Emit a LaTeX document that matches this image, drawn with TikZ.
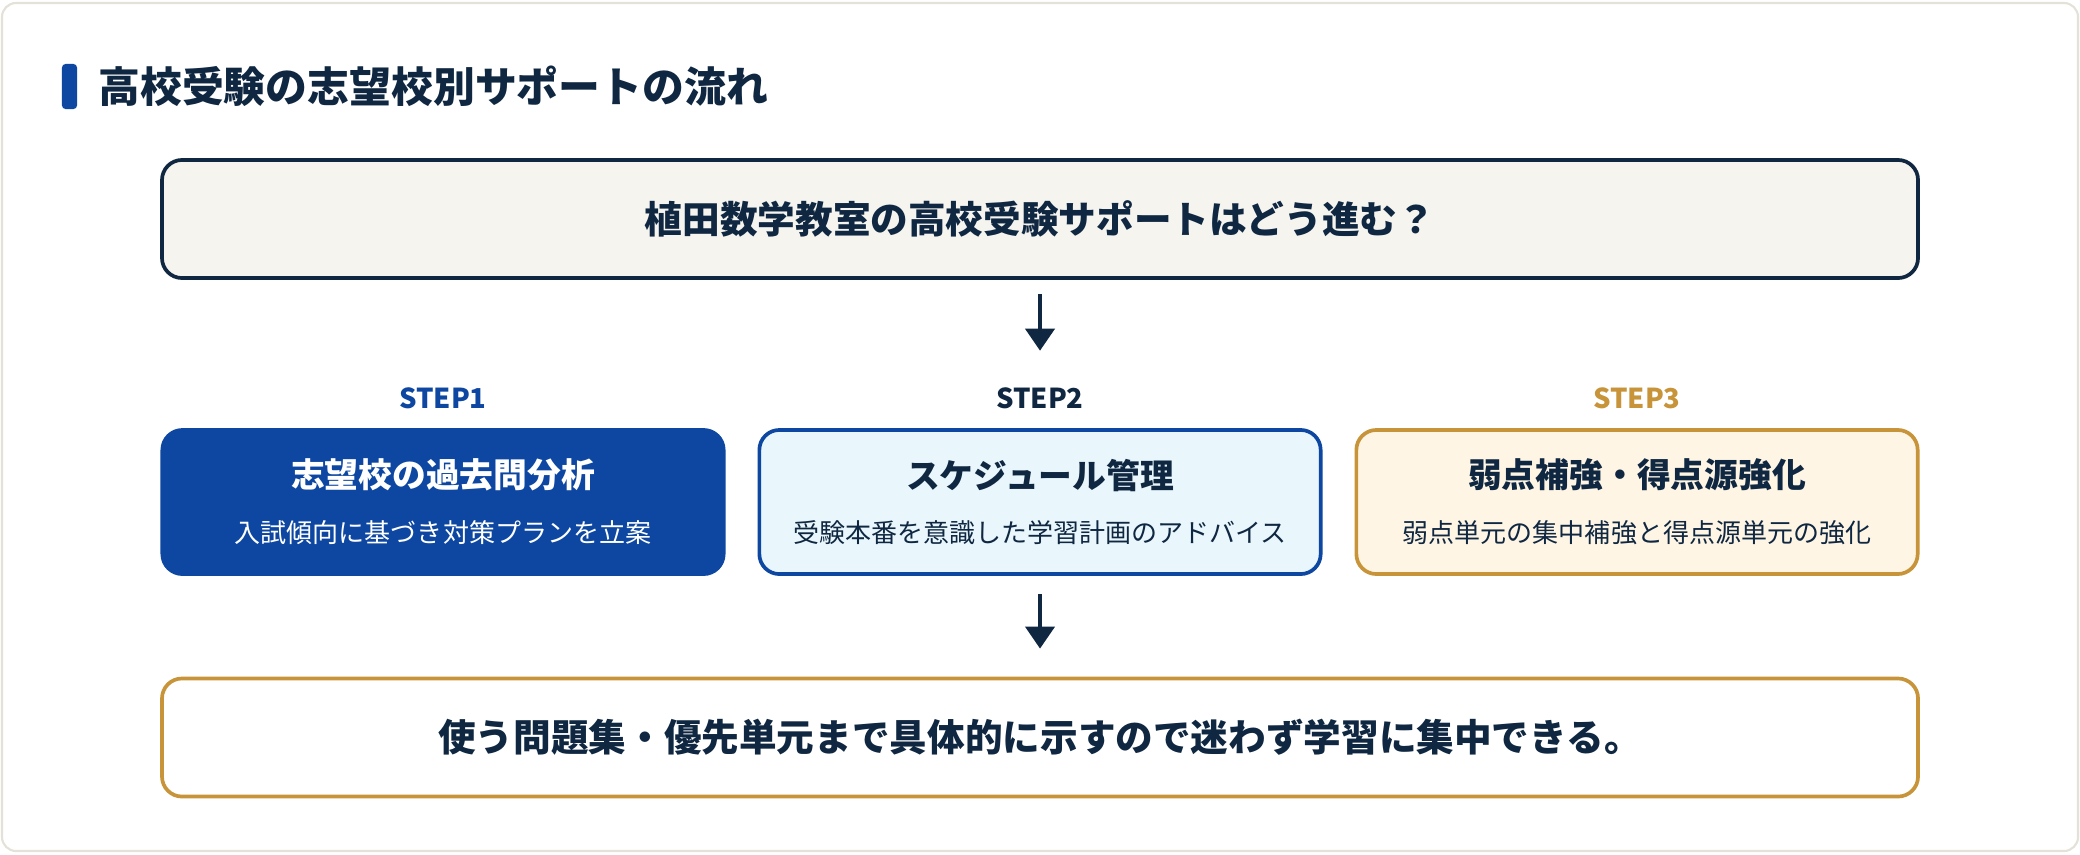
\documentclass[tikz,border=0pt]{standalone}
\usepackage{fontspec}
\setmainfont{Noto Sans CJK JP}
\usetikzlibrary{arrows.meta,positioning}

\definecolor{navy}{HTML}{0F2741}
\definecolor{stepblue}{HTML}{0D47A1}
\definecolor{gold}{HTML}{C8943A}
\definecolor{skyfill}{HTML}{E9F7FC}
\definecolor{creamfill}{HTML}{FEF5E4}
\definecolor{topfill}{HTML}{F5F4EF}
\definecolor{cardline}{HTML}{E4E2D8}

\tikzset{
  widebox/.style={rounded corners=0.2cm, line width=1.05pt, minimum width=17.55cm, minimum height=1.18cm,
    font=\fontsize{10.7pt}{13pt}\selectfont\bfseries, text=navy},
  stepbox/.style={rounded corners=0.2cm, line width=1.05pt, minimum width=5.61cm, minimum height=1.44cm,
    align=center, font=\fontsize{7.4pt}{15.6pt}\selectfont},
  steplabel/.style={inner sep=0pt, font=\fontsize{7.8pt}{9pt}\selectfont\bfseries},
  flow/.style={-{Triangle[width=0.29cm,length=0.22cm]}, line width=1.15pt, draw=navy}
}

\begin{document}
\begin{tikzpicture}[x=0.01cm, y=-0.01cm]
   \useasboundingbox (0,0) rectangle (2080,854);
   % Card
   \draw[fill=white, draw=cardline, line width=0.6pt, rounded corners=0.14cm] (2,3) rectangle (2078,851);

   % Heading
   \node[fill=stepblue, rounded corners=1pt, inner sep=0pt, minimum width=0.15cm, minimum height=0.45cm] (bar) at (69.5,86.5) {};
   \node[right=0.2cm of bar, inner sep=0pt, text=navy, font=\fontsize{11.9pt}{14pt}\selectfont\bfseries] (title) {高校受験の志望校別サポートの流れ};

   % Question box
   \node[widebox, draw=navy, fill=topfill] (top) at (1040,219) {植田数学教室の高校受験サポートはどう進む？};

   % Steps
   \foreach \i/\cx/\lc/\bc/\fc/\tc/\ttl/\sub in {
       1/443/stepblue/stepblue/stepblue/white/志望校の過去問分析/入試傾向に基づき対策プランを立案,
       2/1040/navy/stepblue/skyfill/navy/スケジュール管理/受験本番を意識した学習計画のアドバイス,
       3/1637/gold/gold/creamfill/navy/弱点補強・得点源強化/弱点単元の集中補強と得点源単元の強化} {
       \node[steplabel, text=\lc] (lbl\i) at (\cx,398) {STEP\i};
       \node[stepbox, draw=\bc, fill=\fc, text=\tc] (step\i) at (\cx,502)
           {{\fontsize{9.6pt}{15.6pt}\selectfont\bfseries \ttl}\\{\sub}};
   }

   % Result box
   \node[widebox, draw=gold, fill=white] (result) at (1040,737.5) {使う問題集・優先単元まで具体的に示すので迷わず学習に集中できる。};

   % Arrows
   \draw[flow, shorten <=0.145cm, shorten >=0.36cm] (top.south) -- (lbl2.north);
   \draw[flow, shorten <=0.185cm, shorten >=0.28cm] (step2.south) -- (result.north);
\end{tikzpicture}
\end{document}
